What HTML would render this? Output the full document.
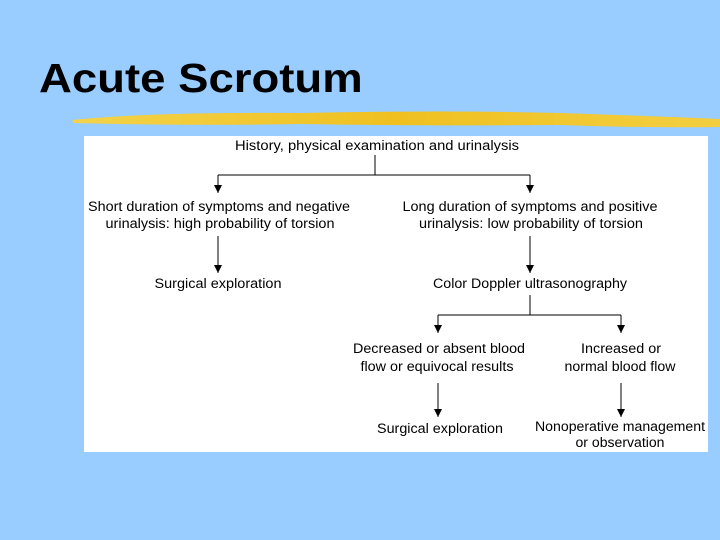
<!DOCTYPE html>
<html><head><style>
body{margin:0;width:720px;height:540px;background:#99CCFF;overflow:hidden;position:relative;font-family:"Liberation Sans",sans-serif}
h1{position:absolute;left:39px;top:58px;margin:0;font-size:41px;line-height:1;font-weight:bold;color:#000;white-space:nowrap;transform:scaleX(1.11);transform-origin:0 0}
</style></head><body>
<h1>Acute Scrotum</h1>
<svg width="720" height="540" style="position:absolute;left:0;top:0">
<defs>
<linearGradient id="g" x1="0" x2="1"><stop offset="0" stop-color="#f3d34a"/><stop offset="0.5" stop-color="#f0c020"/><stop offset="1" stop-color="#f2cf40"/></linearGradient>
<marker id="a" markerWidth="8" markerHeight="8" refX="8" refY="4" orient="auto" markerUnits="userSpaceOnUse"><path d="M0,0 L8,4 L0,8 Z" fill="#000"/></marker>
</defs>
<path d="M72,120 Q150,112 300,113 Q450,110 560,113 Q650,116 720,119 L720,127 Q640,128 560,125 Q420,126 300,124 Q180,126 74,123 Z" fill="url(#g)"/>
<rect x="84" y="136" width="624" height="316" fill="#fff"/>
<g stroke="#000" stroke-width="1" fill="none">
<path d="M375,155V175M218,175H530"/>
<path d="M218,175V193" marker-end="url(#a)"/>
<path d="M530,175V193" marker-end="url(#a)"/>
<path d="M218,236V273" marker-end="url(#a)"/>
<path d="M530,236V273" marker-end="url(#a)"/>
<path d="M530,295V315M438,315H621"/>
<path d="M438,315V333" marker-end="url(#a)"/>
<path d="M621,315V333" marker-end="url(#a)"/>
<path d="M438,383V417" marker-end="url(#a)"/>
<path d="M621,383V417" marker-end="url(#a)"/>
</g>
<g font-size="13.5" fill="#000" text-anchor="middle" font-family="Liberation Sans,sans-serif">
<text x="377" y="150" textLength="284" lengthAdjust="spacingAndGlyphs">History, physical examination and urinalysis</text>
<text x="219" y="211" textLength="262" lengthAdjust="spacingAndGlyphs">Short duration of symptoms and negative</text>
<text x="220" y="228" textLength="229" lengthAdjust="spacingAndGlyphs">urinalysis: high probability of torsion</text>
<text x="530" y="211" textLength="255" lengthAdjust="spacingAndGlyphs">Long duration of symptoms and positive</text>
<text x="531" y="228" textLength="224" lengthAdjust="spacingAndGlyphs">urinalysis: low probability of torsion</text>
<text x="218" y="288" textLength="127" lengthAdjust="spacingAndGlyphs">Surgical exploration</text>
<text x="530" y="288" textLength="194" lengthAdjust="spacingAndGlyphs">Color Doppler ultrasonography</text>
<text x="439" y="353" textLength="172" lengthAdjust="spacingAndGlyphs">Decreased or absent blood</text>
<text x="437" y="371" textLength="153" lengthAdjust="spacingAndGlyphs">flow or equivocal results</text>
<text x="621" y="353" textLength="80" lengthAdjust="spacingAndGlyphs">Increased or</text>
<text x="620" y="371" textLength="111" lengthAdjust="spacingAndGlyphs">normal blood flow</text>
<text x="440" y="433" textLength="126" lengthAdjust="spacingAndGlyphs">Surgical exploration</text>
<text x="620" y="431" textLength="170" lengthAdjust="spacingAndGlyphs">Nonoperative management</text>
<text x="620" y="447" textLength="89" lengthAdjust="spacingAndGlyphs">or observation</text>
</g>
</svg>
</body></html>
